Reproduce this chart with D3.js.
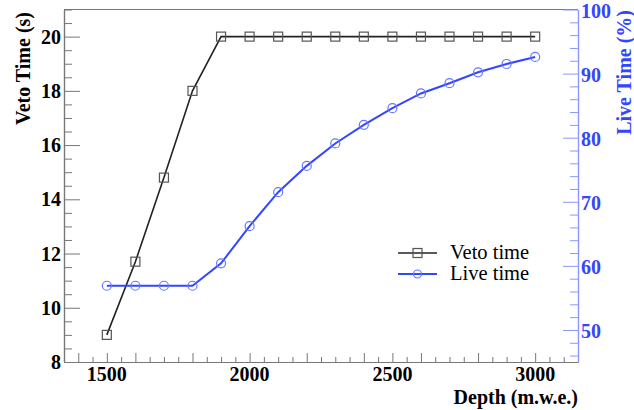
<!DOCTYPE html>
<html lang="en">
<head>
<meta charset="UTF-8">
<script src="https://d3js.org/d3.v7.min.js"></script>
<style>
  body { margin: 0; background: #fff; }
  svg { display: block; font-family: "Liberation Serif", "Times New Roman", serif; }
</style>
</head>
<body>
<div id="container"></div>
<script>
// data
var depth = [1500, 1600, 1700, 1800, 1900, 2000, 2100, 2200, 2300, 2400, 2500, 2600, 2700, 2800, 2900, 3000];
var vetoTime = [9.0, 11.7, 14.8, 18.0, 20, 20, 20, 20, 20, 20, 20, 20, 20, 20, 20, 20];
var liveTime = [56.9, 56.9, 56.9, 56.9, 60.4, 66.2, 71.5, 75.6, 79.1, 82.0, 84.6, 86.9, 88.5, 90.2, 91.5, 92.6];
var xLabels = [1500, 2000, 2500, 3000];
var yLeftLabels = [8, 10, 12, 14, 16, 18, 20];
var yRightLabels = [50, 60, 70, 80, 90, 100];
var legendNames = ["Veto time", "Live time"];

var width = 634, height = 410;
var margin = {left: 64, top: 9.5, right: 56, bottom: 48};
var blue = "#3346ff", lightBlue = "#8b97ff", grey = "#777";

var svg = d3.select("#container").append("svg").attr("width", width).attr("height", height);

var x = d3.scaleLinear().domain([1350, 3150]).range([margin.left, width - margin.right]);
var yL = d3.scaleLinear().domain([8, 21]).range([height - margin.bottom, margin.top]);
var yR = d3.scaleLinear().domain([45, 100]).range([height - margin.bottom, margin.top]);
var x0 = margin.left, x1 = width - margin.right, y0 = height - margin.bottom, y1 = margin.top;

// frame top
svg.append("line").attr("x1", x0).attr("x2", x1).attr("y1", y1).attr("y2", y1)
  .attr("stroke", grey).attr("stroke-width", 1.2);

// x axis: ticks every 50, taller ones at 200s and 500s
var xAll = d3.range(1400, 3151, 50);
var xBig = xAll.filter(function(v) { return v % 200 === 0 || v % 500 === 0; });
var xSmall = xAll.filter(function(v) { return xBig.indexOf(v) < 0; });
function styleAxis(g, col) {
  g.select(".domain").attr("stroke", col).attr("stroke-width", 1.2);
  g.selectAll(".tick line").attr("stroke", col).attr("stroke-width", 1);
}
var gx1 = svg.append("g").attr("transform", "translate(0," + y0 + ")")
  .call(d3.axisBottom(x).tickValues(xSmall).tickSize(-5).tickSizeOuter(0).tickFormat(""));
styleAxis(gx1, grey);
var gx2 = svg.append("g").attr("transform", "translate(0," + y0 + ")")
  .call(d3.axisBottom(x).tickValues(xBig).tickSize(-9).tickSizeOuter(0).tickFormat(""));
styleAxis(gx2, grey);
svg.append("g").selectAll("text").data(xLabels).join("text")
  .attr("x", function(d) { return x(d); }).attr("y", y0 + 19)
  .attr("text-anchor", "middle").attr("font-size", 20).attr("font-weight", "bold")
  .text(function(d) { return d; });

// left axis
var gl1 = svg.append("g").attr("transform", "translate(" + x0 + ",0)")
  .call(d3.axisLeft(yL).tickValues(d3.range(8.5, 21.01, 0.5).filter(function(v) { return v % 2 !== 0; }))
    .tickSize(-8).tickSizeOuter(0).tickFormat(""));
styleAxis(gl1, grey);
var gl2 = svg.append("g").attr("transform", "translate(" + x0 + ",0)")
  .call(d3.axisLeft(yL).tickValues(yLeftLabels).tickSize(-16).tickSizeOuter(0).tickFormat(""));
styleAxis(gl2, grey);
svg.append("g").selectAll("text").data(yLeftLabels).join("text")
  .attr("x", x0 - 3).attr("y", function(d) { return yL(d) + 7; })
  .attr("text-anchor", "end").attr("font-size", 20).attr("font-weight", "bold")
  .text(function(d) { return d; });

// right axis
var gr1 = svg.append("g").attr("transform", "translate(" + x1 + ",0)")
  .call(d3.axisRight(yR).tickValues(d3.range(46, 100.1, 2).filter(function(v) { return v % 10 !== 0; }))
    .tickSize(-8).tickSizeOuter(0).tickFormat(""));
styleAxis(gr1, lightBlue);
var gr2 = svg.append("g").attr("transform", "translate(" + x1 + ",0)")
  .call(d3.axisRight(yR).tickValues(yRightLabels).tickSize(-15).tickSizeOuter(0).tickFormat(""));
styleAxis(gr2, lightBlue);
svg.append("g").selectAll("text").data(yRightLabels).join("text")
  .attr("x", x1 + 3).attr("y", function(d) { return yR(d) + 8; })
  .attr("text-anchor", "start").attr("font-size", 20).attr("font-weight", "bold").attr("fill", blue)
  .text(function(d) { return d; });

// axis titles
svg.append("text").attr("x", x1).attr("y", 403.5).attr("text-anchor", "end")
  .attr("font-size", 20).attr("font-weight", "bold").text("Depth (m.w.e.)");
svg.append("text").attr("transform", "translate(30,12) rotate(-90)").attr("text-anchor", "end")
  .attr("font-size", 20).attr("font-weight", "bold").text("Veto Time (s)");
svg.append("text").attr("transform", "translate(631,10) rotate(-90)").attr("text-anchor", "end")
  .attr("font-size", 20).attr("font-weight", "bold").attr("fill", blue).text("Live Time (%)");

// veto line
var vetoData = depth.map(function(d, i) { return [d, vetoTime[i]]; });
var liveData = depth.map(function(d, i) { return [d, liveTime[i]]; });
svg.append("path").datum(vetoData)
  .attr("fill", "none").attr("stroke", "#222").attr("stroke-width", 1.6)
  .attr("d", d3.line().x(function(d) { return x(d[0]); }).y(function(d) { return yL(d[1]); }));
svg.append("g").selectAll("rect").data(vetoData).join("rect")
  .attr("x", function(d) { return x(d[0]) - 4.5; }).attr("y", function(d) { return yL(d[1]) - 4.5; })
  .attr("width", 9).attr("height", 9).attr("fill", "none").attr("stroke", "#555").attr("stroke-width", 1.2);

// live line
svg.append("path").datum(liveData)
  .attr("fill", "none").attr("stroke", blue).attr("stroke-width", 2)
  .attr("d", d3.line().x(function(d) { return x(d[0]); }).y(function(d) { return yR(d[1]); }));
svg.append("g").selectAll("circle").data(liveData).join("circle")
  .attr("cx", function(d) { return x(d[0]); }).attr("cy", function(d) { return yR(d[1]); })
  .attr("r", 4.5).attr("fill", "none").attr("stroke", "#6677ff").attr("stroke-width", 1.2);

// legend
var leg = svg.append("g");
var rows = [{y: 253, col: "#222", mark: "rect"}, {y: 274, col: blue, mark: "circle"}];
rows.forEach(function(r, i) {
  leg.append("line").attr("x1", 398).attr("x2", 437).attr("y1", r.y).attr("y2", r.y)
    .attr("stroke", r.col).attr("stroke-width", i ? 2 : 1.6);
  if (r.mark === "rect") {
    leg.append("rect").attr("x", 413).attr("y", r.y - 4.5).attr("width", 9).attr("height", 9)
      .attr("fill", "none").attr("stroke", "#555").attr("stroke-width", 1.2);
  } else {
    leg.append("circle").attr("cx", 417.5).attr("cy", r.y).attr("r", 4)
      .attr("fill", "none").attr("stroke", "#6677ff").attr("stroke-width", 1.2);
  }
  leg.append("text").attr("x", 450).attr("y", r.y + 6).attr("font-size", 20.5).text(legendNames[i]);
});
</script>
</body>
</html>
